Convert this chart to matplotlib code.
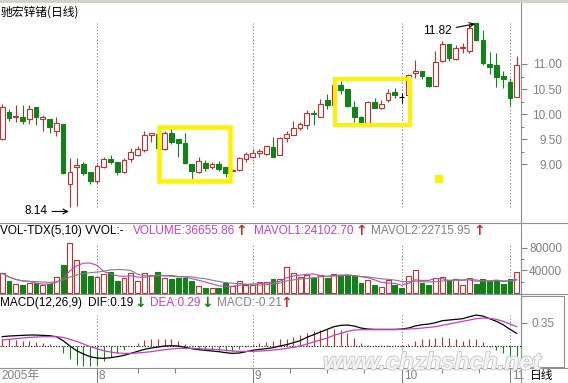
import numpy as np
import pandas as pd
import matplotlib
matplotlib.use('Agg')
import matplotlib.pyplot as plt
from matplotlib.lines import Line2D
from matplotlib.patches import Rectangle
from matplotlib.transforms import offset_copy
import matplotlib.patheffects as pe

plt.rcParams['font.family'] = ['Liberation Sans', 'Noto Sans CJK SC', 'DejaVu Sans']
plt.rcParams['font.size'] = 8.5

# daily bars, 2005-07 .. 2005-11
opens = [9.50, 10.05, 9.94, 9.95, 9.90, 10.15, 9.90, 9.90, 9.67, 9.80,
         8.60, 8.94, 9.01, 8.85, 8.67, 8.95, 9.10, 9.04, 8.84, 9.10,
         9.19, 9.29, 9.59, 9.60, 9.30, 9.62, 9.50, 9.42, 9.00, 8.85,
         9.03, 8.94, 9.00, 8.95, 8.86, 8.89, 9.10, 9.15, 9.23, 9.20,
         9.35, 9.19, 9.52, 9.58, 9.72, 9.78, 10.03, 9.95, 10.28, 10.18,
         10.58, 10.50, 10.15, 9.94, 9.83, 10.24, 10.13, 10.28, 10.45, 10.35,
         10.38, 10.83, 10.86, 10.75, 10.57, 11.05, 11.39, 11.10, 11.31, 11.26,
         11.81, 11.48, 11.00, 10.98, 10.77, 10.65, 10.35]
highs = [10.20, 10.10, 10.18, 10.18, 10.18, 10.15, 9.98, 9.90, 9.94, 9.81,
         9.12, 9.12, 9.05, 8.85, 9.00, 9.15, 9.18, 9.04, 9.12, 9.32,
         9.36, 9.66, 9.62, 9.62, 9.67, 9.72, 9.50, 9.62, 9.00, 9.15,
         9.08, 9.04, 9.06, 8.95, 8.90, 9.15, 9.24, 9.30, 9.30, 9.37,
         9.55, 9.55, 9.66, 9.86, 9.84, 10.08, 10.08, 10.30, 10.40, 10.60,
         10.67, 10.50, 10.27, 9.97, 10.26, 10.33, 10.28, 10.50, 10.52, 10.42,
         10.80, 11.08, 10.86, 10.75, 11.26, 11.46, 11.39, 11.38, 11.42, 11.80,
         11.82, 11.68, 11.23, 11.22, 10.87, 10.73, 11.15]
lows = [9.48, 9.87, 9.85, 9.80, 9.80, 9.78, 9.67, 9.62, 9.57, 8.81,
        8.14, 8.16, 8.79, 8.60, 8.60, 8.93, 9.00, 8.79, 8.82, 9.05,
        9.17, 9.24, 9.45, 9.32, 9.29, 9.40, 9.15, 9.00, 8.70, 8.83,
        8.87, 8.90, 8.87, 8.74, 8.84, 8.87, 9.05, 9.13, 9.15, 9.19,
        9.14, 9.18, 9.45, 9.58, 9.69, 9.70, 9.78, 9.94, 10.10, 10.16,
        10.40, 10.14, 9.85, 9.83, 9.83, 10.12, 10.10, 10.25, 10.33, 10.22,
        10.38, 10.72, 10.70, 10.55, 10.57, 11.04, 11.06, 11.08, 11.21, 11.21,
        11.46, 10.98, 10.81, 10.55, 10.53, 10.17, 10.34]
closes = [10.14, 9.92, 9.96, 9.86, 10.10, 9.94, 9.95, 9.74, 9.82, 8.82,
          8.85, 8.99, 8.83, 8.67, 8.97, 9.10, 9.05, 8.85, 9.09, 9.25,
          9.31, 9.58, 9.61, 9.33, 9.62, 9.45, 9.42, 9.02, 8.87, 9.07,
          8.92, 9.00, 8.90, 8.82, 8.88, 9.12, 9.20, 9.22, 9.25, 9.36,
          9.15, 9.52, 9.60, 9.72, 9.80, 10.03, 10.00, 10.20, 10.18, 10.58,
          10.48, 10.16, 9.95, 9.83, 10.25, 10.13, 10.20, 10.43, 10.38, 10.35,
          10.78, 10.85, 10.77, 10.57, 11.03, 11.39, 11.11, 11.31, 11.34, 11.72,
          11.48, 11.01, 10.95, 10.75, 10.70, 10.33, 10.98]
volumes = [35000, 21900, 15400, 14200, 17200, 18300, 14200, 15400, 29000, 49800,
           88300, 58700, 39100, 30800, 29000, 33800, 36700, 21900, 26100, 35000,
           21900, 35000, 32000, 36700, 27200, 24900, 26100, 27200, 21900, 13000,
           9500, 9500, 9500, 17200, 13000, 21300, 14200, 14200, 19000, 20100,
           24900, 24300, 46800, 35000, 28000, 32000, 27000, 32000, 27500, 33000,
           32500, 32000, 29500, 18300, 23100, 14200, 10100, 23100, 14200, 8300,
           30200, 40900, 18300, 14200, 26100, 27900, 23100, 24000, 14200, 27500,
           15500, 24500, 21500, 23500, 15500, 24000, 36656]
dif = [0.14, 0.15, 0.155, 0.16, 0.165, 0.165, 0.16, 0.155, 0.14, 0.08,
       0.0, -0.07, -0.12, -0.16, -0.18, -0.185, -0.175, -0.16, -0.14, -0.11,
       -0.08, -0.05, -0.03, -0.015, 0.0, 0.005, 0.0, -0.02, -0.04, -0.055,
       -0.065, -0.075, -0.085, -0.10, -0.11, -0.105, -0.085, -0.065, -0.05, -0.04,
       -0.025, 0.0, 0.02, 0.05, 0.08, 0.13, 0.17, 0.21, 0.25, 0.29,
       0.31, 0.315, 0.30, 0.27, 0.255, 0.25, 0.25, 0.25, 0.25, 0.255,
       0.27, 0.30, 0.32, 0.33, 0.35, 0.38, 0.39, 0.40, 0.41, 0.44,
       0.465, 0.45, 0.41, 0.37, 0.32, 0.25, 0.19]
dea = [0.09, 0.10, 0.11, 0.12, 0.13, 0.135, 0.14, 0.14, 0.14, 0.13,
       0.10, 0.07, 0.03, -0.01, -0.04, -0.07, -0.09, -0.105, -0.11, -0.11,
       -0.105, -0.095, -0.085, -0.07, -0.055, -0.045, -0.035, -0.035, -0.035, -0.04,
       -0.045, -0.05, -0.055, -0.065, -0.075, -0.08, -0.08, -0.08, -0.075, -0.07,
       -0.06, -0.05, -0.035, -0.02, 0.0, 0.03, 0.06, 0.09, 0.12, 0.16,
       0.19, 0.22, 0.24, 0.245, 0.245, 0.245, 0.245, 0.245, 0.245, 0.25,
       0.255, 0.26, 0.27, 0.28, 0.29, 0.31, 0.33, 0.35, 0.37, 0.39,
       0.41, 0.42, 0.415, 0.40, 0.37, 0.33, 0.29]
month_starts = [14, 37, 59, 75]          # first trading day of Aug, Sep, Oct, Nov
month_labels = ['8', '9', '10', '11']
week_ticks = [20, 25.5, 42.5, 48, 53.5, 65, 70.5]
price_ticks = [9.0, 9.5, 10.0, 10.5, 11.0]
vol_ticks = [40000, 80000]

W, H = 568, 383
PX = 0.72                                 # points per pixel at 100 dpi
RED = '#C0302F'
GREEN = '#14801A'
MAG = '#C040C0'
GRAY = '#808080'
YEL = '#FFF200'


def rect(x0, y0, x1, y1):
    return [x0 / W, 1 - y1 / H, (x1 - x0) / W, (y1 - y0) / H]


def hline(y, x0=0, x1=W, color='#909090'):
    fig.add_artist(Line2D([x0 / W, x1 / W], [1 - y / H] * 2, transform=fig.transFigure,
                          color=color, lw=0.8))


o, h, l, c = map(np.asarray, (opens, highs, lows, closes))
vol = np.asarray(volumes, float)
dif, dea = np.asarray(dif), np.asarray(dea)
hist = 2 * (dif - dea)
idx = np.arange(len(c))
rise, fall, flat = c > o, c < o, c == o

fig = plt.figure(figsize=(W / 100, H / 100), dpi=100)
xlim = (-2.2 / 6.77, (521 - 2.2) / 6.77)
ax = fig.add_axes(rect(0, 3, 521, 223))
axv = fig.add_axes(rect(0, 223, 521, 294))
axm = fig.add_axes(rect(0, 294, 521, 368))
axt = fig.add_axes(rect(0, 368, 521, 383))
for a in (ax, axv, axm, axt):
    a.set_xlim(xlim)
    a.set_xticks([])
    for s in a.spines.values():
        s.set_visible(False)
ax.set_ylim(7.83, 12.216)
axv.set_ylim(-1778, 124444)
axm.set_ylim(-0.33, 0.781)
axt.set_ylim(0, 1)
axt.set_yticks([])

# right-side scales
for a, ticks, fmt, end in [(ax, price_ticks, '{:.2f}', 562), (axv, vol_ticks, '{:.0f}', 562),
                           (axm, [0.35], '{:.2f}', 554)]:
    a.yaxis.tick_right()
    a.set_yticks(ticks)
    a.set_yticklabels([fmt.format(t) for t in ticks])
    a.tick_params(axis='y', direction='out', length=6 * PX, width=0.8, color=GRAY,
                  labelcolor=GRAY, labelsize=8.5, pad=(end - 527) * PX)
    plt.setp(a.get_yticklabels(), ha='right')
ax.set_yticks([9.25, 9.75, 10.25, 10.75], minor=True)
axv.set_yticks([20000, 60000], minor=True)
for a in (ax, axv):
    a.tick_params(axis='y', which='minor', direction='out', length=3 * PX, width=0.8, color=GRAY)

# month separators
dots = (0, (1, 2))
ax.vlines(month_starts, l.min(), h.max(), colors=GRAY, linestyles=dots, lw=0.8, zorder=0)
axv.vlines(month_starts, 0, vol.max(), colors=GRAY, linestyles=dots, lw=0.8, zorder=0)
axm.vlines(month_starts, hist.min(), max(dif.max(), dea.max()), colors=GRAY,
           linestyles=dots, lw=0.8, zorder=0)

# candles
wick_col = np.where(rise, RED, np.where(fall, GREEN, 'black'))
ax.vlines(idx, l, h, colors=wick_col, lw=0.8, zorder=1)
body = np.maximum(np.abs(c - o), 0.03)
ax.bar(idx[rise], body[rise], bottom=o[rise], width=0.7, facecolor='white',
       edgecolor=RED, linewidth=0.8, zorder=2)
ax.bar(idx[fall], body[fall], bottom=c[fall], width=0.7, facecolor=GREEN,
       edgecolor=GREEN, linewidth=0.8, zorder=2)
ax.hlines(c[flat], idx[flat] - 0.38, idx[flat] + 0.38, colors='black', lw=0.8, zorder=2)

# extreme price notes
i_lo, i_hi = int(np.argmin(l)), int(np.argmax(h))
ax.annotate(f'{l[i_lo]:.2f}', xy=(i_lo, l[i_lo]),
            xycoords=offset_copy(ax.transData, fig=fig, x=-1, y=-4, units='dots'),
            xytext=(-21, 0), textcoords='offset pixels', ha='right', va='center',
            arrowprops=dict(arrowstyle='->', color='black', lw=0.8, shrinkA=1, shrinkB=0))
ax.annotate(f'{h[i_hi]:.2f}', xy=(i_hi, h[i_hi]),
            xycoords=offset_copy(ax.transData, fig=fig, x=-1, y=-1, units='dots'),
            xytext=(-23, -7), textcoords='offset pixels', ha='right', va='center',
            arrowprops=dict(arrowstyle='->', color='black', lw=0.8, shrinkA=1, shrinkB=0))

# yellow marker boxes
ax.add_patch(Rectangle((23.2, 8.671), 33.68 - 23.2, 9.734 - 8.671, fill=False,
                       edgecolor=YEL, lw=4.5 * PX, zorder=4))
ax.add_patch(Rectangle((49.2, 9.778), 60.28 - 49.2, 10.707 - 9.778, fill=False,
                       edgecolor=YEL, lw=4 * PX, zorder=4))
ax.add_patch(Rectangle((63.9, 8.627), 1.2, 0.16, facecolor=YEL, edgecolor='none', zorder=4))

# volume
axv.bar(idx[rise], vol[rise], width=0.72, facecolor='white', edgecolor=RED, linewidth=0.8)
axv.bar(idx[~rise], vol[~rise], width=0.72, facecolor=GREEN, edgecolor=GREEN, linewidth=0.8)
ma5 = pd.Series(vol).rolling(5, min_periods=1).mean()
ma10 = pd.Series(vol).rolling(10, min_periods=1).mean()
axv.plot(idx, ma5, color=MAG, lw=0.8)
axv.plot(idx, ma10, color=GRAY, lw=0.8)

# MACD
axm.axhline(0, color='black', lw=0.8, ls=(0, (1, 1.5)))
axm.vlines(idx, 0, hist, colors=np.where(hist >= 0, RED, GREEN), lw=0.8)
axm.plot(idx, dif, color='black', lw=0.9)
axm.plot(idx, dea, color=MAG, lw=0.9)

# time axis
axt.vlines(month_starts, 0, 1, colors=GRAY, lw=0.8)
axt.vlines(week_ticks, 0.7, 1, colors=GRAY, lw=0.8)
lab_tr = offset_copy(axt.transData, fig=fig, x=2, y=0, units='dots')
for m, s in zip(month_starts, month_labels):
    axt.text(m, 0.45, s, transform=lab_tr, ha='left', va='center', color=GRAY, fontsize=8.5)
fig.text(1 / W, 1 - 376 / H, '2005年', ha='left', va='center', color=GRAY, fontsize=8.5)
fig.text(530 / W, 1 - 376 / H, '日线', ha='left', va='center', color='black', fontsize=8.5,
         family=['Noto Sans CJK SC'])

# headers
fig.text(1 / W, 1 - 12 / H, '驰宏锌锗(日线)', ha='left', va='center', fontsize=8.5,
         family=['Noto Sans CJK SC'])
for s, x, col, y in [('VOL-TDX(5,10) VVOL:-', 0, 'black', 231),
                     ('VOLUME:36655.86', 133, MAG, 231), ('↑', 235, RED, 231),
                     ('MAVOL1:24102.70', 254, MAG, 231), ('↑', 355, RED, 231),
                     ('MAVOL2:22715.95', 371, GRAY, 231), ('↑', 473, RED, 231),
                     ('MACD(12,26,9)', 0, 'black', 303), ('DIF:0.19', 88, 'black', 303),
                     ('↓', 134, GREEN, 303), ('DEA:0.29', 150, MAG, 303),
                     ('↓', 201, GREEN, 303), ('MACD:-0.21', 217, GRAY, 303),
                     ('↑', 280, RED, 303)]:
    arrow = s in ('↑', '↓')
    fig.text(x / W, 1 - y / H, s, ha='left', va='center', color=col,
             fontsize=10 if arrow else 8.5,
             family=['DejaVu Sans'] if arrow else None,
             weight='bold' if arrow else 'normal')

# frame lines
fig.add_artist(Rectangle((0, 1 - 2.5 / H), 1, 2.5 / H, transform=fig.transFigure,
                         facecolor='#D4D0C8', edgecolor='none'))
for y in (223, 294, 368):
    hline(y)
fig.add_artist(Line2D([521 / W] * 2, [0, 1 - 3 / H], transform=fig.transFigure,
                      color='#909090', lw=0.8))
fig.add_artist(Rectangle((521 / W, 1 - 367 / H), 43 / W, 71 / H, transform=fig.transFigure,
                         fill=False, edgecolor='#909090', lw=0.8))

# watermark
fig.text(432 / W, 1 - 363 / H, 'www.chzhshch.net', ha='center', va='center', fontsize=17.5,
         style='italic', weight='bold', color='#F4F4F4', zorder=10,
         path_effects=[pe.withStroke(linewidth=1.2, foreground='#C4C4C4')])

fig.savefig('out.png', dpi=100, facecolor='white')
